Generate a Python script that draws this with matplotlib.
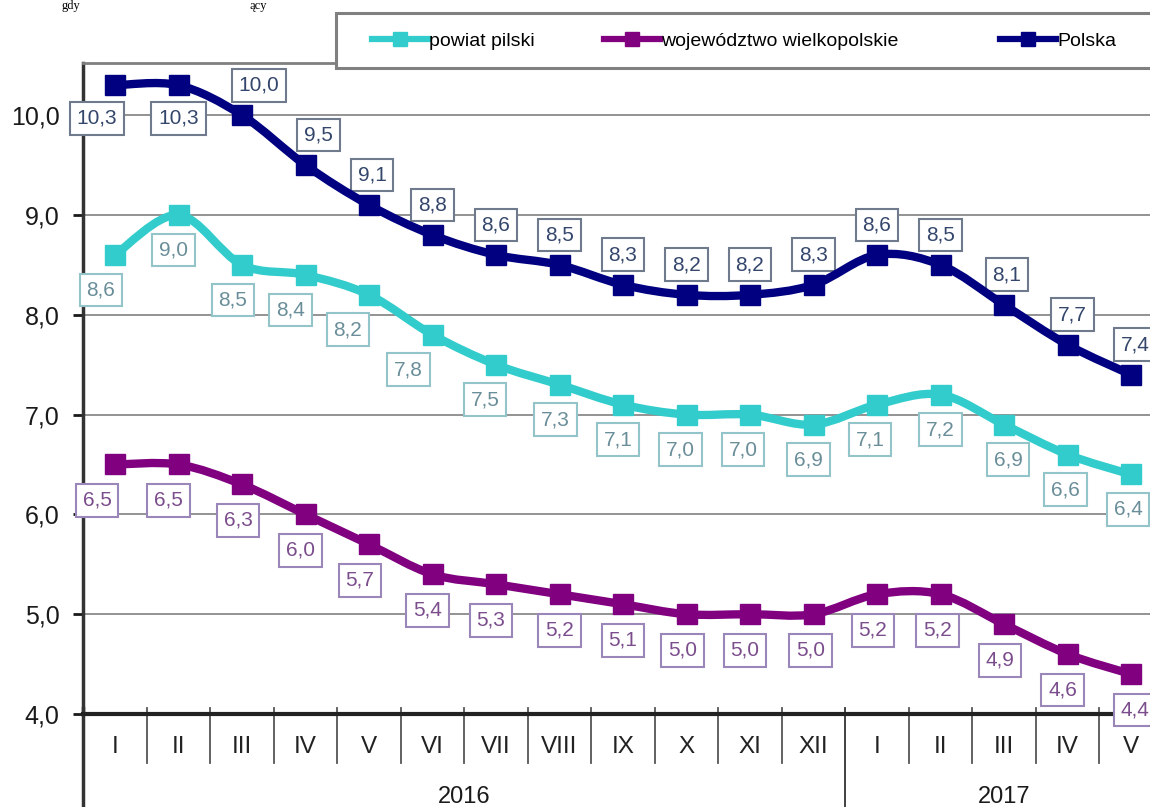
import numpy as np
import matplotlib
matplotlib.use("Agg")
import matplotlib.pyplot as plt
from matplotlib.path import Path
from matplotlib.patches import PathPatch, Rectangle
from matplotlib.lines import Line2D
from matplotlib import ticker

plt.rcParams["font.family"] = ["Liberation Sans", "DejaVu Sans"]

# --- data ---------------------------------------------------------------
months = ["I", "II", "III", "IV", "V", "VI", "VII", "VIII", "IX", "X", "XI", "XII",
          "I", "II", "III", "IV", "V"]
years = ["2016", "2017"]
year_len = [12, 5]

powiat = [8.6, 9.0, 8.5, 8.4, 8.2, 7.8, 7.5, 7.3, 7.1, 7.0, 7.0, 6.9, 7.1, 7.2, 6.9, 6.6, 6.4]
wojew = [6.5, 6.5, 6.3, 6.0, 5.7, 5.4, 5.3, 5.2, 5.1, 5.0, 5.0, 5.0, 5.2, 5.2, 4.9, 4.6, 4.4]
polska = [10.3, 10.3, 10.0, 9.5, 9.1, 8.8, 8.6, 8.5, 8.3, 8.2, 8.2, 8.3, 8.6, 8.5, 8.1, 7.7, 7.4]

names = ["powiat pilski", "województwo wielkopolskie", "Polska"]

# --- styling -------------------------------------------------------------
W, H = 1150, 807
LINE_COLORS = ["#33cccc", "#800080", "#000080"]
TEXT_COLORS = ["#6a8e99", "#7b4d8c", "#34466b"]
EDGE_COLORS = ["#93c4ca", "#9a86b8", "#6f7a8c"]
LEGEND_X = [372, 604, 1000]   # left end of each legend handle, px

# label offsets in pixels (dx per point, common dy)
DX = [
    [-14, -5, -9, -15, -21, -24, -11, -4, -5, -6, -7, -5, -7, 0, 4, -2, -3],
    [-18, -10, -4, -5, -9, -5, -5, 0, 0, -4, -5, -3, -4, -3, -4, -5, 4],
    [-18, 0, 17, 13, 3, 0, 0, 0, 0, 0, 0, 0, 0, 0, 3, 5, 4],
]
DY = [
    [-35] * 17,
    [-36] * 17,
    [-33, -33] + [30] * 15,
]


def smooth_path(x, y):
    """Bezier path through the points (Excel-like smoothed line)."""
    pts = np.column_stack([x, y]).astype(float)
    n = len(pts)
    verts, codes = [pts[0]], [Path.MOVETO]
    for i in range(n - 1):
        p0, p1 = pts[max(i - 1, 0)], pts[i]
        p2, p3 = pts[i + 1], pts[min(i + 2, n - 1)]
        verts += [p1 + (p2 - p0) / 6, p2 - (p3 - p1) / 6, p2]
        codes += [Path.CURVE4] * 3
    return Path(verts, codes)


def fmt(v):
    return f"{v:.1f}".replace(".", ",")


fig = plt.figure(figsize=(W / 100, H / 100), dpi=100)
left, right, top, bottom = 83.25, 1162.75, 63, 714
ax = fig.add_axes([left / W, 1 - bottom / H, (right - left) / W, (bottom - top) / H])
ax.set_xlim(-0.5, len(months) - 0.5)
ax.set_ylim(4.0, 4.0 + (bottom - top) / 99.8)

x = np.arange(len(months))
for k, (vals, name) in enumerate(zip([powiat, wojew, polska], names)):
    c = LINE_COLORS[k]
    ax.add_patch(PathPatch(smooth_path(x, vals), fc="none", ec=c, lw=6,
                           joinstyle="round", capstyle="round", zorder=4))
    ax.plot(x, vals, ls="none", marker="s", ms=14, color=c, zorder=5)
    for i, v in enumerate(vals):
        ax.annotate(fmt(v), (i, v), xytext=(DX[k][i], DY[k][i]),
                    textcoords="offset pixels", ha="center", va="center",
                    fontsize=15, color=TEXT_COLORS[k], zorder=3.5,
                    annotation_clip=False,
                    bbox=dict(boxstyle="square,pad=0.33", fc="white",
                              ec=EDGE_COLORS[k], lw=1.5))

# axes, grid
ax.set_yticks(np.arange(4, 11, 1.0))
ax.yaxis.set_major_formatter(ticker.FuncFormatter(lambda v, _: fmt(v)))
ax.tick_params(axis="y", length=7, width=2, pad=10, labelsize=18, colors="#1a1a1a")
ax.yaxis.grid(True, color="#8a8a8a", lw=1.3)
ax.set_axisbelow(True)

ax.set_xticks(x)
ax.set_xticklabels(months)
ax.tick_params(axis="x", length=0, pad=16, labelsize=17.5, labelcolor="#222222")

ax.spines["right"].set_visible(False)
ax.spines["top"].set_color("#808080")
ax.spines["top"].set_linewidth(2)
ax.spines["left"].set_color("#333333")
ax.spines["left"].set_linewidth(2.5)
ax.spines["bottom"].set_color("#222222")
ax.spines["bottom"].set_linewidth(3)

# category separators below the axis
tr = ax.get_xaxis_transform()
ax_h = bottom - top
starts = np.cumsum([0] + year_len)
for b in range(len(months) + 1):
    long = b in starts[:-1]
    y0 = 6 / ax_h
    y1 = -(H - bottom + 2) / ax_h if long else -(763 - bottom) / ax_h
    lw = 2.5 if b == 0 else 1.3
    ax.plot([b - 0.5, b - 0.5], [y0, y1], transform=tr, clip_on=False,
            color="#333333" if long else "#555555", lw=lw)

for yr, s, n in zip(years, starts, year_len):
    ax.text(s + n / 2 - 0.5, -(797 - bottom) / ax_h, yr, transform=tr,
            ha="center", va="center", fontsize=17, color="#1a1a1a")

# legend in a box at the top
fig.add_artist(Rectangle((336 / W, 1 - 68 / H), 900 / W, 55 / H,
                         transform=fig.transFigure, fc="white", ec="#808080",
                         lw=2.2, zorder=1))
for c, name, lx in zip(LINE_COLORS, names, LEGEND_X):
    h = Line2D([], [], color=c, lw=4.5, marker="s", ms=10)
    fig.legend([h], [name], loc="center left", frameon=False,
               bbox_to_anchor=(lx / W, 1 - 41 / H), borderpad=0, borderaxespad=0,
               fontsize=14, handlelength=2.9, handletextpad=0.05)

# caption fragment at the very top (cropped in the source)
for xp, t in [(62, "gdy"), (250, "ący")]:
    fig.text(xp / W, 1 - 0.5 / H, t, family="Liberation Serif",
             fontsize=9, ha="left", va="top")

fig.savefig("out.png", dpi=100)
